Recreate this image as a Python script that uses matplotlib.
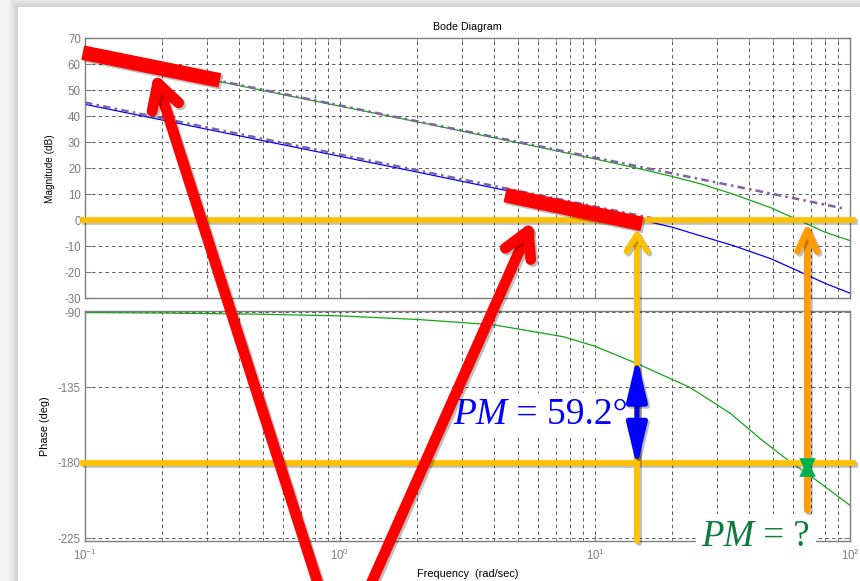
import matplotlib
matplotlib.use("Agg")
import matplotlib.pyplot as plt
import matplotlib.patheffects as pe
from matplotlib.patches import ConnectionPatch, FancyArrowPatch, Rectangle
from matplotlib.lines import Line2D
from matplotlib.path import Path

plt.rcParams['font.family'] = ['Liberation Sans', 'DejaVu Sans']
plt.rcParams['axes.unicode_minus'] = False

# magnitude curves (rad/sec -> dB)
freq = [0.1, 0.2, 0.5, 1, 2, 5, 10, 15, 20, 26, 35, 49, 63, 80, 100]
mag_green = [63.9, 57.9, 49.9, 43.9, 37.9, 29.8, 23.6, 19.8, 16.9, 14.0, 10.0, 4.8, 0.0, -4.6, -7.8]
mag_blue = [44.6, 38.6, 30.6, 24.6, 18.6, 10.5, 4.3, 0.2, -2.6, -6.0, -9.8, -14.8, -19.6, -24.3, -28.0]

# dash-dot asymptotes
asym_hi_freq = [0.1, 94]
asym_hi_db = [64.2, 4.6]
asym_lo_freq = [0.1, 18.4]
asym_lo_db = [45.3, 0.0]

# phase curve (deg)
phase_freq = [0.1, 0.2, 0.5, 1, 2, 4, 7.5, 10, 14.6, 23.6, 34, 45, 59, 68, 80, 100]
phase_green = [-90.3, -90.6, -91.3, -92.3, -94.4, -97.6, -104.7, -110.4, -120.7,
               -135.0, -150.5, -166.2, -180.0, -186.3, -194.3, -205.3]

# annotation values
wc_blue = 14.6      # 0 dB crossing of the blue curve
w_pc = 68           # where the green phase meets -180

YELLOW = '#FFC000'
ORANGE = '#FF9C00'
RED = '#FF0000'
GREEN = '#14A514'
GRID = '#3a3a3a'
SERIF = 'Liberation Serif'

fig = plt.figure(figsize=(8.6, 5.81), dpi=100)
fig.patch.set_facecolor('#F3F3F3')
# slide background with a soft shadow
for i in range(6):
    d = (6 - i) * 1.5
    fig.add_artist(Rectangle(((18 - d) / 860, 0), 1, (574 + d) / 581, transform=fig.transFigure,
                             fc='#000000', ec='none', alpha=0.025, zorder=-12))
fig.add_artist(Rectangle((18 / 860, 0), 1, 574 / 581, transform=fig.transFigure,
                         fc='white', ec='none', zorder=-10))

ax1 = fig.add_axes([85 / 860, 1 - 298.3 / 581, 765 / 860, 260 / 581])
ax2 = fig.add_axes([85 / 860, 1 - 540.7 / 581, 765 / 860, 230 / 581])

for ax in (ax1, ax2):
    ax.set_xscale('log')
    ax.set_xlim(0.1, 100)
    ax.grid(True, which='both', color=GRID, linestyle=(0, (4, 4)), linewidth=0.6)
    for s in ax.spines.values():
        s.set_color('#7f7f7f')
        s.set_linewidth(1.0)
    ax.tick_params(which='both', direction='in', top=True, right=True, colors='#7f7f7f',
                   labelcolor='#7c7c7c', labelsize=8.3)
    ax.tick_params(which='major', length=4, pad=3)
    ax.tick_params(which='minor', length=2)

ax1.set_ylim(-30, 70)
ax1.set_yticks(range(-30, 71, 10))
ax1.tick_params(which='both', labelbottom=False)
ax2.set_ylim(-226.4, -89.2)
ax2.set_yticks([-225, -180, -135, -90])
ax2.tick_params(axis='x', pad=5)

ax1.plot(freq, mag_green, color=GREEN, lw=0.9)
ax1.plot(freq, mag_blue, color='#0000FF', lw=0.9)
ax1.plot(asym_hi_freq, asym_hi_db, color='#7D62A8', lw=1.8, dashes=(3, 1.7, 1, 1.7))
ax1.plot(asym_lo_freq, asym_lo_db, color='#7D62A8', lw=1.8, dashes=(3, 1.7, 1, 1.7))
ax2.plot(phase_freq, phase_green, color=GREEN, lw=0.9)

ax1.set_title('Bode Diagram', fontsize=7.7, pad=5.8)
ax1.set_ylabel('Magnitude (dB)', fontsize=7.2)
ax1.yaxis.set_label_coords(-0.039, 0.5)
ax2.set_ylabel('Phase (deg)', fontsize=7.8)
ax2.yaxis.set_label_coords(-0.046, 0.5)
ax2.set_xlabel('Frequency  (rad/sec)', fontsize=7.9, va='top')
ax2.xaxis.set_label_coords(0.5, -0.125)

shadow = [pe.SimpleLineShadow(offset=(1.5, -1.5), shadow_color='#000000', alpha=0.25), pe.Normal()]


def pm_label(x, y, value, size, color, pad):
    # italic "PM" followed by an upright "= value", both on white boxes
    box = dict(boxstyle='square,pad=%g' % pad, fc='white', ec='none')
    t1 = ax2.text(x, y, 'PM', family=SERIF, style='italic', fontsize=size, color=color,
                  ha='left', va='bottom', zorder=9, clip_on=False, bbox=box)
    ax2.annotate(' = ' + value, xy=(1, 0), xycoords=t1, family=SERIF, fontsize=size, color=color,
                 ha='left', va='bottom', zorder=8, annotation_clip=False, bbox=box)


pm_label(2.77, -161.3, '59.2°', 27, '#0000FF', 0.1)
pm_label(26.1, -234.4, '?', 26.5, '#0B7B3E', 0.15)

# yellow reference lines at 0 dB and -180 deg
fig.add_artist(Line2D([0.0982, 102.8], [0, 0], transform=ax1.transData, color=YELLOW,
                      lw=4.1, path_effects=shadow, zorder=20))
fig.add_artist(Line2D([0.0982, 102.5], [-180, -180], transform=ax2.transData, color=YELLOW,
                      lw=4.1, path_effects=shadow, zorder=20))

# vertical arrows
fig.add_artist(ConnectionPatch(xyA=(wc_blue, -226.4), coordsA='data', axesA=ax2,
                               xyB=(wc_blue, -3.4), coordsB='data', axesB=ax1,
                               arrowstyle='->,head_length=1.2,head_width=0.75', mutation_scale=10,
                               color=YELLOW, lw=4.3, annotation_clip=False,
                               path_effects=shadow, zorder=21))
fig.add_artist(ConnectionPatch(xyA=(w_pc, -208.1), coordsA='data', axesA=ax2,
                               xyB=(w_pc, -0.9), coordsB='data', axesB=ax1,
                               arrowstyle='->,head_length=1.5,head_width=0.7', mutation_scale=10,
                               color=ORANGE, lw=4.8, annotation_clip=False,
                               path_effects=shadow, zorder=21))

# blue double arrow for the phase margin
fig.add_artist(FancyArrowPatch(posA=(wc_blue, -117.0), posB=(wc_blue, -182.5), transform=ax2.transData,
                               arrowstyle='<|-|>,head_length=2.6,head_width=0.62', mutation_scale=10,
                               color='#0000FF', lw=3.6, shrinkA=0, shrinkB=0,
                               path_effects=shadow, zorder=35))

# phase crossover marker
hourglass = Path([(-0.88, 1), (0.88, 1), (0.4, 0), (0.88, -1), (-0.88, -1), (-0.4, 0), (-0.88, 1)],
                 [Path.MOVETO] + [Path.LINETO] * 5 + [Path.CLOSEPOLY])
fig.add_artist(Line2D([w_pc], [-182.5], transform=ax2.transData, marker=hourglass,
                      markersize=13.5, color='#00B050', markeredgewidth=0, linestyle='none', zorder=40))

# red highlight bars on the -20 dB/dec slopes
fig.add_artist(Line2D([0.098, 0.338], [64.5, 53.8], transform=ax1.transData, color=RED, lw=10.5,
                      solid_capstyle='butt', path_effects=shadow, zorder=30))
fig.add_artist(Line2D([4.44, 15.29], [9.7, -1.4], transform=ax1.transData, color=RED, lw=10.5,
                      solid_capstyle='butt', path_effects=shadow, zorder=30))

# red pointer arrows from the bottom of the slide
for tail, tip in [((0.3758, -0.0327), (0.187, 56.8)), ((0.423, -0.0327), (5.7, -0.2))]:
    fig.add_artist(ConnectionPatch(xyA=tail, coordsA='figure fraction',
                                   xyB=tip, coordsB='data', axesB=ax1,
                                   arrowstyle='->,head_length=1.8,head_width=1.0', mutation_scale=10,
                                   color=RED, lw=7.8, annotation_clip=False,
                                   path_effects=shadow, zorder=31))

fig.savefig('out.png', dpi=100, facecolor=fig.get_facecolor())
